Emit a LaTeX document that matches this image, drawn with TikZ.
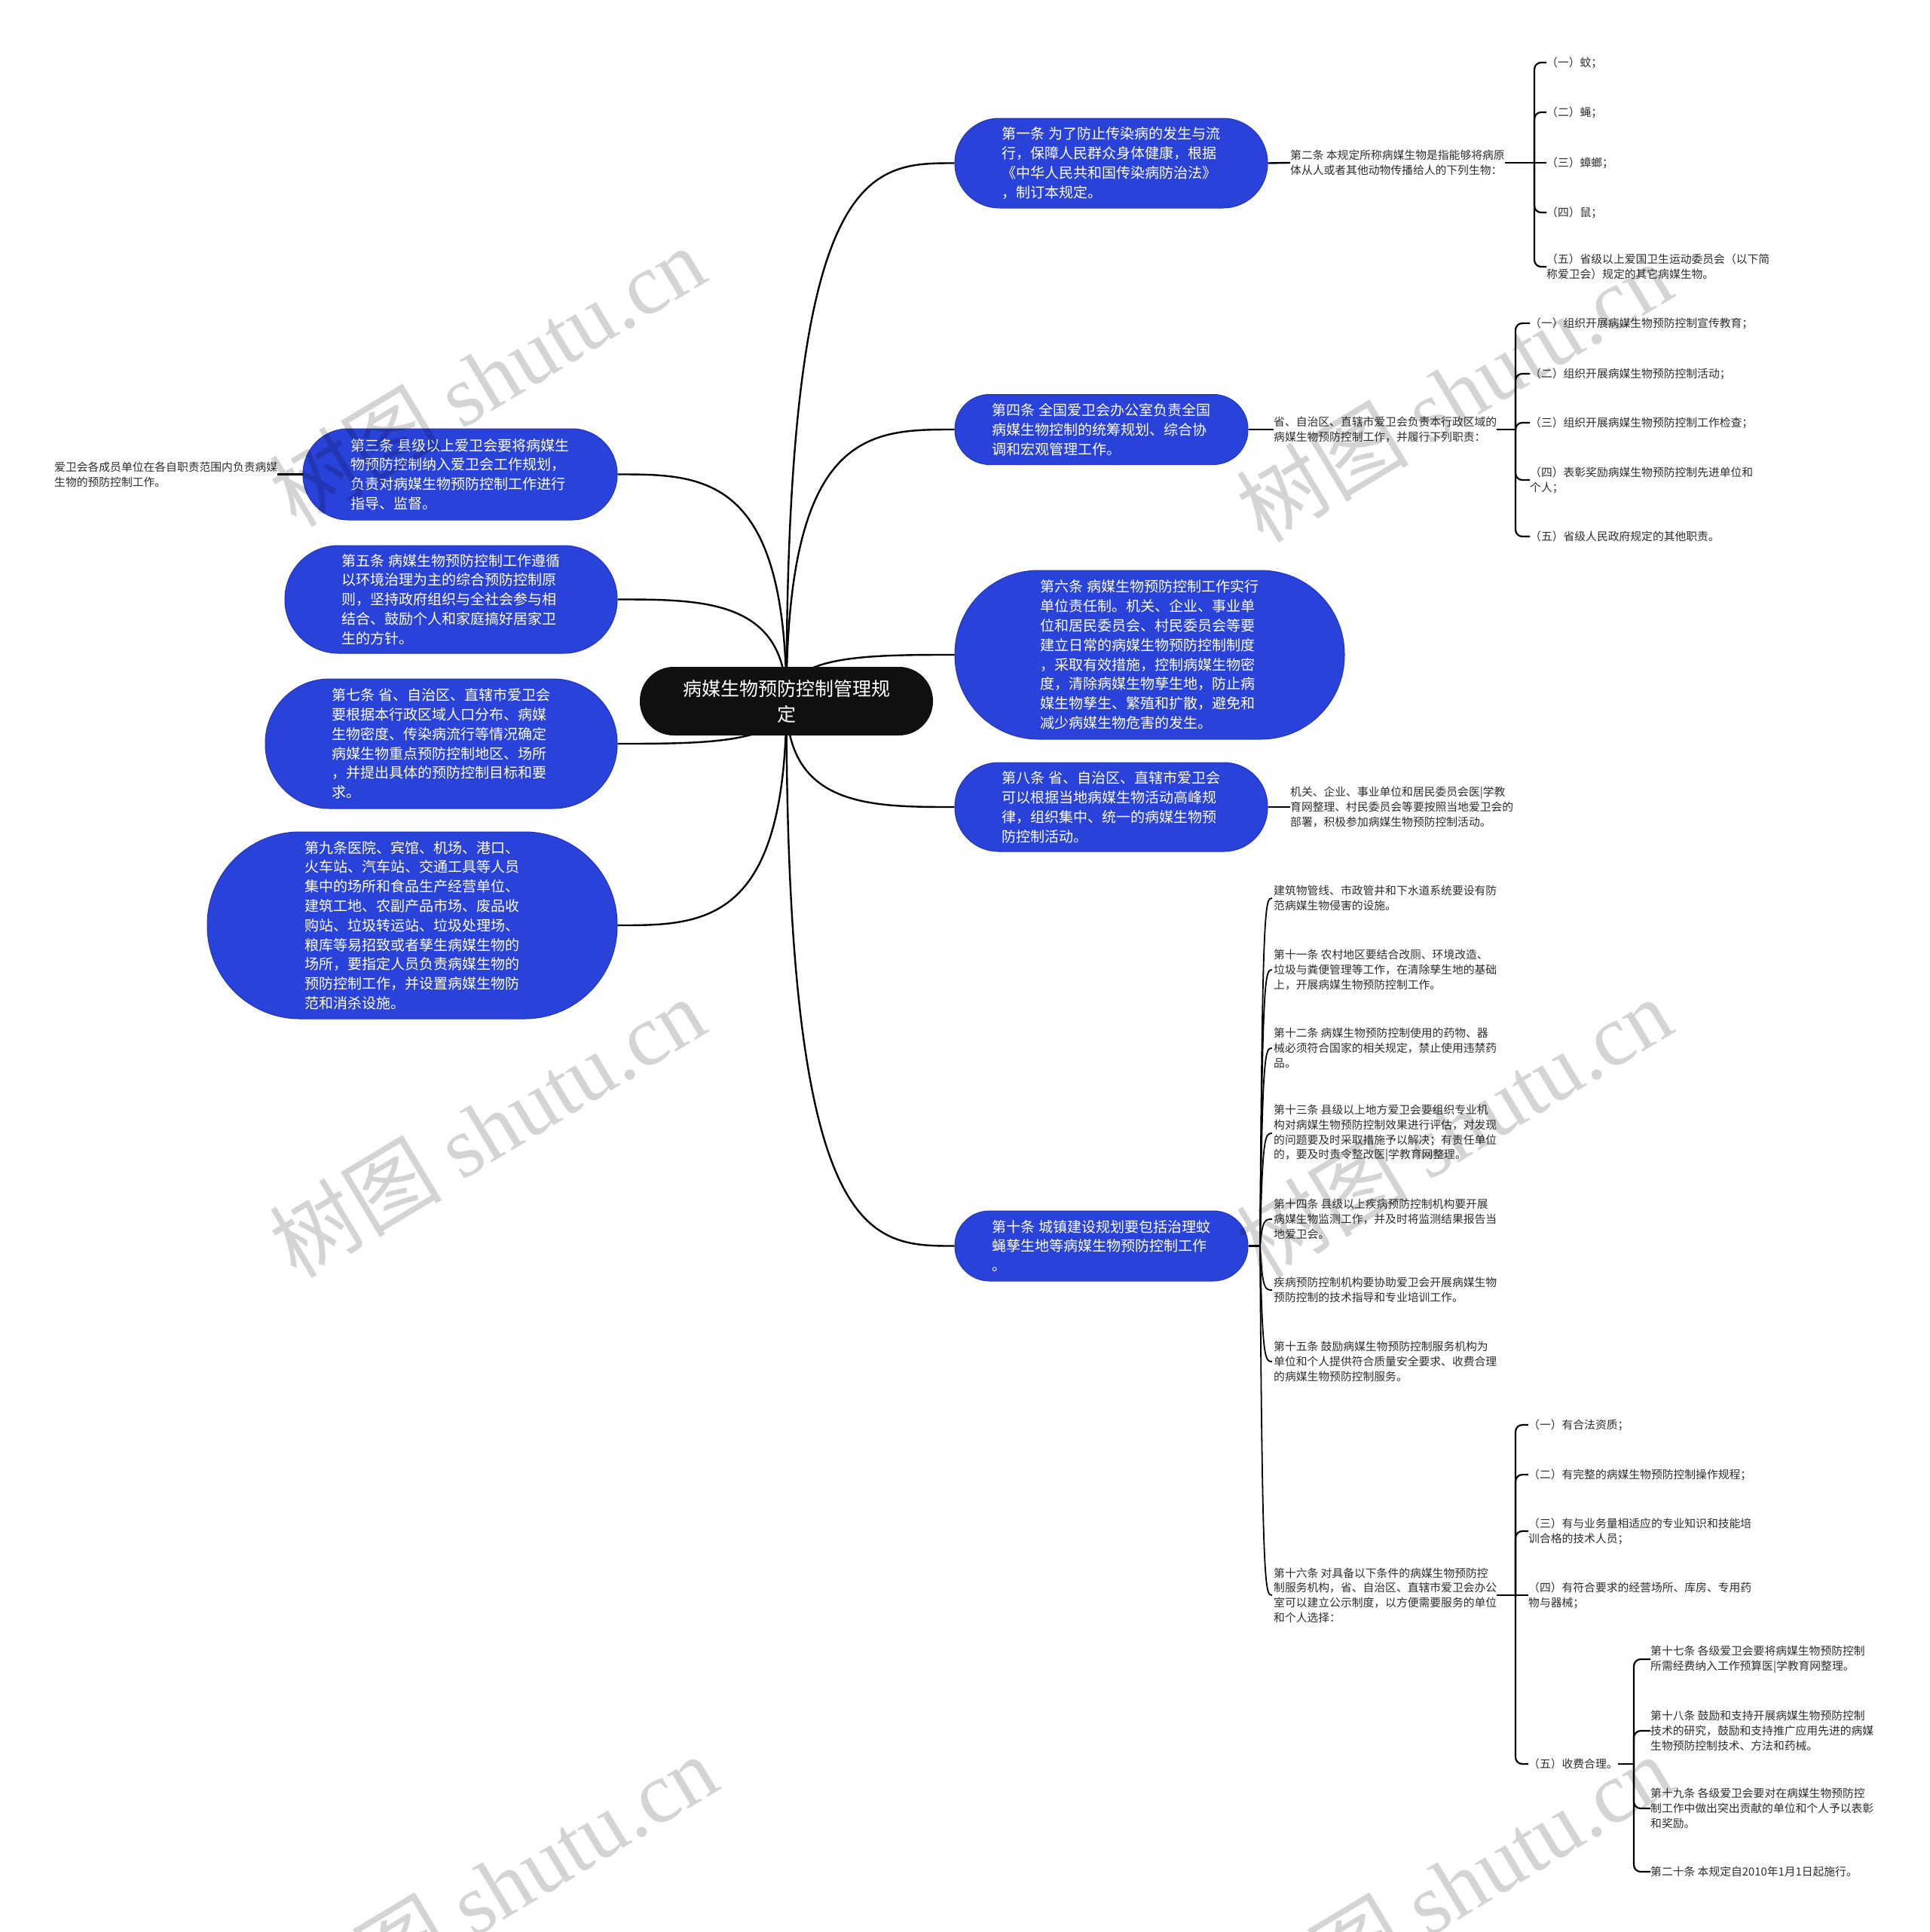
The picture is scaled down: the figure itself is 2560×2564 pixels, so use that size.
\documentclass[tikz,border=0pt]{standalone}
\usepackage{fontspec}
\setmainfont{Noto Sans CJK SC}
\newfontfamily\wmserif{Liberation Serif}
\usetikzlibrary{calc}
\definecolor{nodeblue}{RGB}{41,66,217}
\definecolor{nodeedge}{RGB}{33,52,185}
\definecolor{rootblack}{RGB}{16,16,16}
\definecolor{txt}{RGB}{45,45,45}
\pgfdeclarelayer{bottom}
\pgfdeclarelayer{background}
\pgfsetlayers{bottom,background,main}
\begin{document}
\begin{tikzpicture}[x=1pt,y=-1pt,
  bnode/.style={fill=nodeblue, draw=nodeedge, line width=1pt, text=white, font=\fontsize{19}{25.8}\selectfont, align=left, inner sep=0pt},
  leaf/.style={font=\fontsize{14.8}{19.7}\selectfont, text=txt, align=left, inner sep=0pt, anchor=west},
  conn/.style={draw=black, line width=2.4pt},
  brk/.style={draw=black, line width=2.2pt, rounded corners=9pt},
  fan/.style={draw=black, line width=1.8pt, shorten >=2pt},
  wm/.style={text=black, opacity=0.17, font=\fontsize{115}{115}\selectfont, rotate=31, inner sep=0pt}
]
\begin{pgfonlayer}{bottom}
\fill[white] (0,0) rectangle (2560,2564);
\end{pgfonlayer}
\useasboundingbox (0,0) rectangle (2560,2564);

% root
\node[fill=rootblack, text=white, font=\fontsize{25}{34}\selectfont, align=center, inner sep=0pt, minimum width=389, minimum height=91, rounded corners=45] (root) at (1043.5,930.5) {病媒生物预防控制管理规\\定};

% right main nodes
\node[bnode, minimum width=415, minimum height=119, rounded corners=59] (n1) at (1474.5,216.5) {第一条 为了防止传染病的发生与流\\行，保障人民群众身体健康，根据\\《中华人民共和国传染病防治法》\\，制订本规定。};
\node[bnode, minimum width=389, minimum height=93, rounded corners=46] (n4) at (1461.5,570) {第四条 全国爱卫会办公室负责全国\\病媒生物控制的统筹规划、综合协\\调和宏观管理工作。};
\node[bnode, minimum width=517, minimum height=224, rounded corners=111] (n6) at (1525.5,869) {第六条 病媒生物预防控制工作实行\\单位责任制。机关、企业、事业单\\位和居民委员会、村民委员会等要\\建立日常的病媒生物预防控制制度\\，采取有效措施，控制病媒生物密\\度，清除病媒生物孳生地，防止病\\媒生物孳生、繁殖和扩散，避免和\\减少病媒生物危害的发生。};
\node[bnode, minimum width=415, minimum height=118, rounded corners=58] (n8) at (1474.5,1071) {第八条 省、自治区、直辖市爱卫会\\可以根据当地病媒生物活动高峰规\\律，组织集中、统一的病媒生物预\\防控制活动。};
\node[bnode, minimum width=389, minimum height=93, rounded corners=46] (n10) at (1461.5,1653.5) {第十条 城镇建设规划要包括治理蚊\\蝇孳生地等病媒生物预防控制工作\\。};

% left main nodes
\node[bnode, minimum width=417, minimum height=121, rounded corners=60] (n3) at (610.5,629.5) {第三条 县级以上爱卫会要将病媒生\\物预防控制纳入爱卫会工作规划，\\负责对病媒生物预防控制工作进行\\指导、监督。};
\node[bnode, minimum width=441, minimum height=143, rounded corners=71] (n5) at (598.5,795.5) {第五条 病媒生物预防控制工作遵循\\以环境治理为主的综合预防控制原\\则，坚持政府组织与全社会参与相\\结合、鼓励个人和家庭搞好居家卫\\生的方针。};
\node[bnode, minimum width=467, minimum height=172, rounded corners=85] (n7) at (585.5,987) {第七条 省、自治区、直辖市爱卫会\\要根据本行政区域人口分布、病媒\\生物密度、传染病流行等情况确定\\病媒生物重点预防控制地区、场所\\，并提出具体的预防控制目标和要\\求。};
\node[bnode, minimum width=544, minimum height=248, rounded corners=123] (n9) at (547,1228) {第九条医院、宾馆、机场、港口、\\火车站、汽车站、交通工具等人员\\集中的场所和食品生产经营单位、\\建筑工地、农副产品市场、废品收\\购站、垃圾转运站、垃圾处理场、\\粮库等易招致或者孳生病媒生物的\\场所，要指定人员负责病媒生物的\\预防控制工作，并设置病媒生物防\\范和消杀设施。};

% leaves of n1
\node[leaf] (t2) at (1712,216) {第二条 本规定所称病媒生物是指能够将病原\\体从人或者其他动物传播给人的下列生物：};
\node[leaf] (c21) at (2052,83) {（一）蚊；};
\node[leaf] (c22) at (2052,149) {（二）蝇；};
\node[leaf] (c23) at (2052,216) {（三）蟑螂；};
\node[leaf] (c24) at (2052,282) {（四）鼠；};
\node[leaf] (c25) at (2052,354) {（五）省级以上爱国卫生运动委员会（以下简\\称爱卫会）规定的其它病媒生物。};

% leaves of n4
\node[leaf] (t4) at (1690,570) {省、自治区、直辖市爱卫会负责本行政区域的\\病媒生物预防控制工作，并履行下列职责：};
\node[leaf] (c41) at (2030,429) {（一）组织开展病媒生物预防控制宣传教育；};
\node[leaf] (c42) at (2030,496) {（二）组织开展病媒生物预防控制活动；};
\node[leaf] (c43) at (2030,561) {（三）组织开展病媒生物预防控制工作检查；};
\node[leaf] (c44) at (2030,637) {（四）表彰奖励病媒生物预防控制先进单位和\\个人；};
\node[leaf] (c45) at (2030,712) {（五）省级人民政府规定的其他职责。};

% leaf of n8
\node[leaf] (t8) at (1712,1071) {机关、企业、事业单位和居民委员会医|学教\\育网整理、村民委员会等要按照当地爱卫会的\\部署，积极参加病媒生物预防控制活动。};

% leaf of n3
\node[leaf] (t3) at (72,629.5) {爱卫会各成员单位在各自职责范围内负责病媒\\生物的预防控制工作。};

% leaves of n10
\node[leaf] (c101) at (1690,1192) {建筑物管线、市政管井和下水道系统要设有防\\范病媒生物侵害的设施。};
\node[leaf] (c102) at (1690,1287) {第十一条 农村地区要结合改厕、环境改造、\\垃圾与粪便管理等工作，在清除孳生地的基础\\上，开展病媒生物预防控制工作。};
\node[leaf] (c103) at (1690,1391) {第十二条 病媒生物预防控制使用的药物、器\\械必须符合国家的相关规定，禁止使用违禁药\\品。};
\node[leaf] (c104) at (1690,1504) {第十三条 县级以上地方爱卫会要组织专业机\\构对病媒生物预防控制效果进行评估，对发现\\的问题要及时采取措施予以解决；有责任单位\\的，要及时责令整改医|学教育网整理。};
\node[leaf] (c105) at (1690,1618) {第十四条 县级以上疾病预防控制机构要开展\\病媒生物监测工作，并及时将监测结果报告当\\地爱卫会。};
\node[leaf] (c106) at (1690,1712) {疾病预防控制机构要协助爱卫会开展病媒生物\\预防控制的技术指导和专业培训工作。};
\node[leaf] (c107) at (1690,1807) {第十五条 鼓励病媒生物预防控制服务机构为\\单位和个人提供符合质量安全要求、收费合理\\的病媒生物预防控制服务。};
\node[leaf] (c108) at (1690,2117) {第十六条 对具备以下条件的病媒生物预防控\\制服务机构，省、自治区、直辖市爱卫会办公\\室可以建立公示制度，以方便需要服务的单位\\和个人选择：};

% leaves of c108
\node[leaf] (d1) at (2028,1891) {（一）有合法资质；};
\node[leaf] (d2) at (2028,1957) {（二）有完整的病媒生物预防控制操作规程；};
\node[leaf] (d3) at (2028,2032) {（三）有与业务量相适应的专业知识和技能培\\训合格的技术人员；};
\node[leaf] (d4) at (2028,2117) {（四）有符合要求的经营场所、库房、专用药\\物与器械；};
\node[leaf] (d5) at (2028,2341) {（五）收费合理。};

% leaves of d5
\node[leaf] (e1) at (2190,2202) {第十七条 各级爱卫会要将病媒生物预防控制\\所需经费纳入工作预算医|学教育网整理。};
\node[leaf] (e2) at (2190,2297) {第十八条 鼓励和支持开展病媒生物预防控制\\技术的研究，鼓励和支持推广应用先进的病媒\\生物预防控制技术、方法和药械。};
\node[leaf] (e3) at (2190,2400) {第十九条 各级爱卫会要对在病媒生物预防控\\制工作中做出突出贡献的单位和个人予以表彰\\和奖励。};
\node[leaf] (e4) at (2190,2484) {第二十条 本规定自2010年1月1日起施行。};

% junctions
\coordinate (j2) at (2036,216);
\coordinate (j4) at (2011,570);
\coordinate (j10) at (1672,1653.5);
\coordinate (j16) at (2011,2117);
\coordinate (j5) at (2168,2341);

\begin{pgfonlayer}{background}
\foreach \n in {n1,n4,n6,n8,n10}
  \draw[conn] (root.center) .. controls (root.center |- \n.west) and ($(root.center |- \n.west)+(110,0)$) .. (\n.west);
\foreach \n in {n3,n5,n7,n9}
  \draw[conn] (root.center) .. controls (root.center |- \n.east) and ($(root.center |- \n.east)+(-110,0)$) .. (\n.east);
\end{pgfonlayer}

\draw[conn] (n1.east) -- (t2.west);
\draw[conn] (n4.east) -- (t4.west);
\draw[conn] (n8.east) -- (t8.west);
\draw[conn] (n3.west) -- (t3.east);

\draw[conn] (t2.east) -- (j2);
\foreach \c in {c21,c22,c24,c25} \draw[brk] (j2) |- (\c.west);
\draw[brk] (j2) -- (c23.west);

\draw[conn] (t4.east) -- (j4);
\foreach \c in {c41,c42,c43,c44,c45} \draw[brk] (j4) |- (\c.west);

\draw[conn] (n10.east) -- (j10);
\foreach \c in {c101,c102,c103,c104,c105,c106,c107,c108}
  \draw[fan] (j10) .. controls ($(j10 |- \c.west)+(3,0)$) and ($(j10 |- \c.west)+(7,0)$) .. (\c.west);

\draw[conn] (c108.east) -- (j16);
\foreach \c in {d1,d2,d3,d5} \draw[brk] (j16) |- (\c.west);
\draw[brk] (j16) -- (d4.west);

\draw[conn] (d5.east) -- (j5);
\foreach \c in {e1,e2,e3,e4} \draw[brk] (j5) |- (\c.west);

% watermarks
\foreach \x/\y [count=\i] in {646/499, 1929/520, 646/1496, 1929/1496, 662/2501, 1929/2501}
  \node[wm] (wm\i) at (\x,\y) {树图 {\wmserif shutu.cn}};
\end{tikzpicture}
\end{document}
